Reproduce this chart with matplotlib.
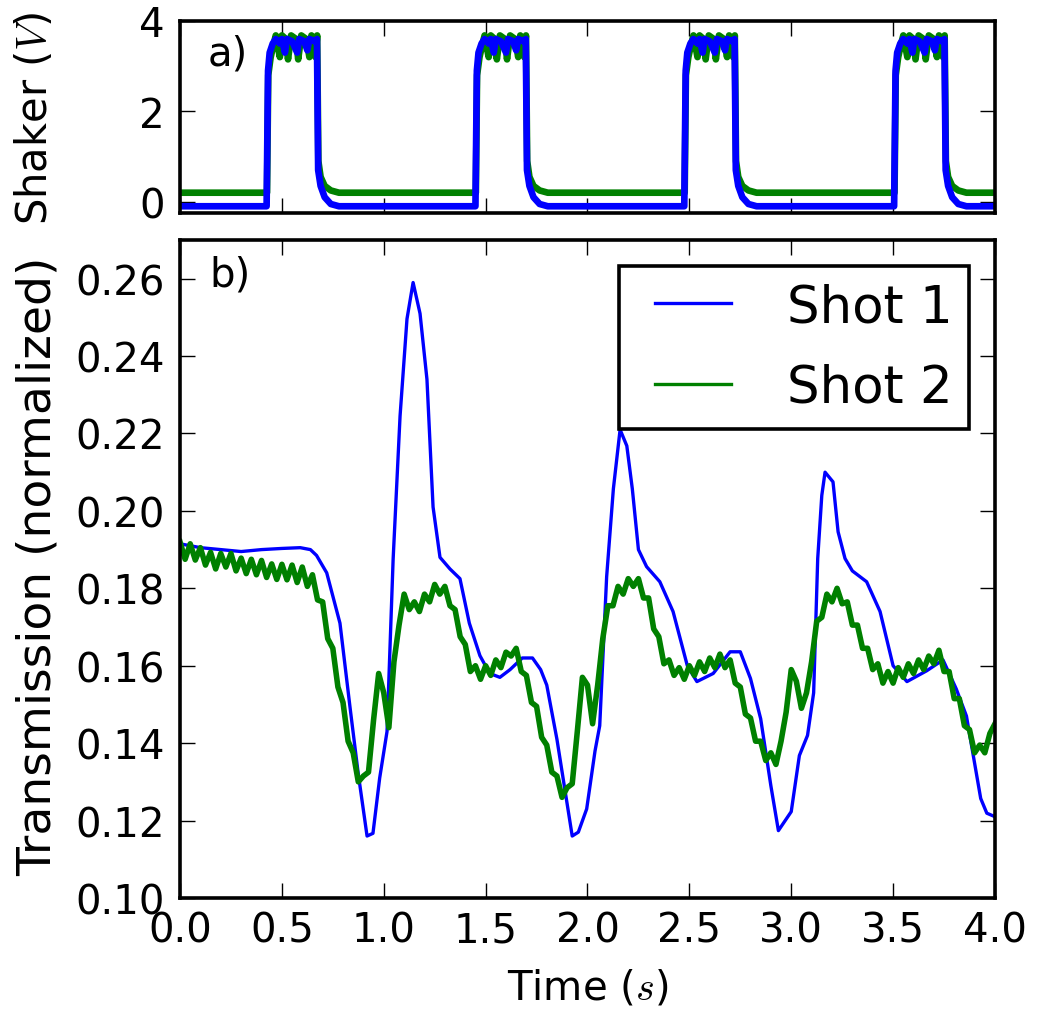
import numpy as np
import matplotlib
matplotlib.use("Agg")
import matplotlib.pyplot as plt

plt.rcParams['font.family'] = ['DejaVu Sans']
plt.rcParams['mathtext.fontset'] = 'cm'

# ---------------- data: shaker voltage (panel a) ----------------
shaker1_t = [0.0, 0.425, 0.432, 0.44, 0.455, 0.47, 0.49, 0.50, 0.515, 0.525, 0.55, 0.575, 0.585, 0.61, 0.625, 0.635, 0.66, 0.672, 0.678, 0.69, 0.71, 0.74, 0.78,
             1.450, 1.457, 1.465, 1.48, 1.495, 1.515, 1.525, 1.54, 1.55, 1.575, 1.60, 1.61, 1.635, 1.65, 1.66, 1.685, 1.697, 1.703, 1.715, 1.735, 1.765, 1.805,
             2.475, 2.482, 2.49, 2.505, 2.52, 2.54, 2.55, 2.565, 2.575, 2.60, 2.625, 2.635, 2.66, 2.675, 2.685, 2.71, 2.722, 2.728, 2.74, 2.76, 2.79, 2.83,
             3.505, 3.512, 3.52, 3.535, 3.55, 3.57, 3.58, 3.595, 3.605, 3.63, 3.655, 3.665, 3.69, 3.705, 3.715, 3.74, 3.752, 3.758, 3.77, 3.79, 3.82, 3.86, 4.0]
shaker1_v = [-0.1, -0.1, 2.9, 3.3, 3.5, 3.6, 3.5, 3.6, 3.3, 3.6, 3.55, 3.3, 3.6, 3.55, 3.35, 3.6, 3.55, 3.6, 0.7, 0.35, 0.1, -0.05, -0.1,
             -0.1, 2.9, 3.3, 3.5, 3.6, 3.5, 3.6, 3.3, 3.6, 3.55, 3.3, 3.6, 3.55, 3.35, 3.6, 3.55, 3.6, 0.7, 0.35, 0.1, -0.05, -0.1,
             -0.1, 2.9, 3.3, 3.5, 3.6, 3.5, 3.6, 3.3, 3.6, 3.55, 3.3, 3.6, 3.55, 3.35, 3.6, 3.55, 3.6, 0.7, 0.35, 0.1, -0.05, -0.1,
             -0.1, 2.9, 3.3, 3.5, 3.6, 3.5, 3.6, 3.3, 3.6, 3.55, 3.3, 3.6, 3.55, 3.35, 3.6, 3.55, 3.6, 0.7, 0.35, 0.1, -0.05, -0.1, -0.1]

shaker2_t = [0.0, 0.427, 0.433, 0.445, 0.46, 0.47, 0.49, 0.50, 0.52, 0.53, 0.545, 0.57, 0.58, 0.595, 0.62, 0.635, 0.645, 0.665, 0.673, 0.679, 0.69, 0.71, 0.74, 0.78,
             1.452, 1.458, 1.47, 1.485, 1.495, 1.515, 1.525, 1.545, 1.555, 1.57, 1.595, 1.605, 1.62, 1.645, 1.66, 1.67, 1.69, 1.698, 1.704, 1.715, 1.735, 1.765, 1.805,
             2.477, 2.483, 2.495, 2.51, 2.52, 2.54, 2.55, 2.57, 2.58, 2.595, 2.62, 2.63, 2.645, 2.67, 2.685, 2.695, 2.715, 2.723, 2.729, 2.74, 2.76, 2.79, 2.83,
             3.507, 3.513, 3.525, 3.54, 3.55, 3.57, 3.58, 3.60, 3.61, 3.625, 3.65, 3.66, 3.675, 3.70, 3.715, 3.725, 3.745, 3.753, 3.759, 3.77, 3.79, 3.82, 3.86, 4.0]
shaker2_v = [0.2, 0.2, 2.8, 3.2, 3.5, 3.68, 3.2, 3.68, 3.6, 3.15, 3.68, 3.6, 3.15, 3.68, 3.6, 3.2, 3.68, 3.2, 3.68, 0.9, 0.55, 0.35, 0.25, 0.2,
             0.2, 2.8, 3.2, 3.5, 3.68, 3.2, 3.68, 3.6, 3.15, 3.68, 3.6, 3.15, 3.68, 3.6, 3.2, 3.68, 3.2, 3.68, 0.9, 0.55, 0.35, 0.25, 0.2,
             0.2, 2.8, 3.2, 3.5, 3.68, 3.2, 3.68, 3.6, 3.15, 3.68, 3.6, 3.15, 3.68, 3.6, 3.2, 3.68, 3.2, 3.68, 0.9, 0.55, 0.35, 0.25, 0.2,
             0.2, 2.8, 3.2, 3.5, 3.68, 3.2, 3.68, 3.6, 3.15, 3.68, 3.6, 3.15, 3.68, 3.6, 3.2, 3.68, 3.2, 3.68, 0.9, 0.55, 0.35, 0.25, 0.2, 0.2]

# ---------------- data: transmission (panel b) ----------------
shot1_t = [0.0, 0.1, 0.2, 0.3, 0.4, 0.5, 0.59, 0.64, 0.67, 0.72, 0.785, 0.835, 0.875, 0.918, 0.947, 0.98, 1.016, 1.046,
           1.08, 1.114, 1.144, 1.178, 1.212, 1.242, 1.276, 1.325, 1.374, 1.42, 1.472, 1.52, 1.57, 1.62, 1.68, 1.73, 1.77,
           1.80, 1.85, 1.925, 1.955, 1.996, 2.037, 2.06, 2.094, 2.127, 2.16, 2.193, 2.22, 2.25, 2.29, 2.355, 2.42, 2.49,
           2.537, 2.617, 2.70, 2.75, 2.80, 2.85, 2.90, 2.937, 3.00, 3.04, 3.08, 3.11, 3.13, 3.15, 3.166, 3.205, 3.23,
           3.264, 3.30, 3.37, 3.436, 3.50, 3.568, 3.665, 3.745, 3.81, 3.86, 3.93, 3.96, 4.0]
shot1_v = [0.1915, 0.1905, 0.190, 0.1895, 0.190, 0.1903, 0.1905, 0.190, 0.1885, 0.184, 0.171, 0.149, 0.132, 0.116, 0.1167, 0.131, 0.143, 0.1875,
           0.2245, 0.2496, 0.259, 0.251, 0.234, 0.201, 0.188, 0.185, 0.1825, 0.171, 0.1626, 0.158, 0.157, 0.159, 0.162, 0.162, 0.159,
           0.155, 0.141, 0.116, 0.117, 0.123, 0.138, 0.1445, 0.183, 0.2057, 0.221, 0.2168, 0.2057, 0.190, 0.1856, 0.1817, 0.174, 0.160,
           0.1559, 0.158, 0.1636, 0.1636, 0.1567, 0.1463, 0.129, 0.1174, 0.1223, 0.1368, 0.142, 0.153, 0.1877, 0.204, 0.210, 0.2075, 0.1946,
           0.1877, 0.1845, 0.1817, 0.174, 0.160, 0.1559, 0.1587, 0.1615, 0.154, 0.147, 0.1257, 0.1219, 0.121]

shot2_t = np.arange(161) * 0.025
shot2_v = [0.192, 0.1875, 0.1915, 0.1873, 0.1905, 0.186, 0.1893, 0.185, 0.189, 0.1855,
           0.189, 0.1845, 0.1878, 0.1838, 0.1875, 0.1835, 0.1872, 0.1828, 0.1863, 0.1823,
           0.1862, 0.1822, 0.186, 0.1815, 0.1855, 0.1805, 0.1835, 0.177, 0.1765, 0.167,
           0.1645, 0.1545, 0.1505, 0.1405, 0.1375, 0.130, 0.1315, 0.1325, 0.146, 0.158,
           0.153, 0.144, 0.161, 0.1705, 0.1785, 0.1745, 0.1765, 0.174, 0.1785, 0.1765,
           0.181, 0.1785, 0.1805, 0.1755, 0.1745, 0.1675, 0.1655, 0.1585, 0.160, 0.1565,
           0.160, 0.1575, 0.1615, 0.1595, 0.1635, 0.1625, 0.1645, 0.1585, 0.1575, 0.1505,
           0.1495, 0.1415, 0.1395, 0.1325, 0.1315, 0.126, 0.1285, 0.1295, 0.143, 0.157,
           0.155, 0.145, 0.155, 0.167, 0.1755, 0.1755, 0.1805, 0.1785, 0.1825, 0.1805,
           0.1825, 0.1775, 0.1775, 0.1695, 0.1675, 0.1605, 0.1615, 0.1575, 0.1595, 0.1565,
           0.160, 0.1575, 0.161, 0.1585, 0.162, 0.1595, 0.163, 0.1595, 0.1615, 0.1555,
           0.1545, 0.1475, 0.1465, 0.1405, 0.1405, 0.1355, 0.1375, 0.1345, 0.1405, 0.148,
           0.159, 0.156, 0.149, 0.153, 0.161, 0.1715, 0.1725, 0.1785, 0.1765, 0.180,
           0.176, 0.1765, 0.1705, 0.1705, 0.1645, 0.1645, 0.159, 0.1605, 0.1555, 0.1585,
           0.1555, 0.1595, 0.157, 0.1605, 0.158, 0.1615, 0.159, 0.1625, 0.1605, 0.164,
           0.1585, 0.1585, 0.1515, 0.1515, 0.1445, 0.1435, 0.1375, 0.1395, 0.1375, 0.1425,
           0.145]

labels = ["Shot 1", "Shot 2"]
xticks = [0.0, 0.5, 1.0, 1.5, 2.0, 2.5, 3.0, 3.5, 4.0]
yticks_a = [0, 2, 4]
yticks_b = [0.10, 0.12, 0.14, 0.16, 0.18, 0.20, 0.22, 0.24, 0.26]

# ---------------- figure ----------------
fig = plt.figure(figsize=(10.4, 10.12), dpi=100)
axa = fig.add_axes([0.1731, 0.7885, 0.7836, 0.1898])
axb = fig.add_axes([0.1731, 0.1117, 0.7836, 0.6502])

FS = 29
for ax in (axa, axb):
    for sp in ax.spines.values():
        sp.set_linewidth(2.6)
    ax.tick_params(direction='in', length=11, width=1.0, top=True, right=True,
                   labelsize=FS, pad=9)
    ax.tick_params(axis='y', pad=11)

axa.plot(shaker2_t, shaker2_v, color='g', lw=4.8, solid_joinstyle='round')
axa.plot(shaker1_t, shaker1_v, color='b', lw=4.8, solid_joinstyle='round')
axa.set_xlim(0, 4)
axa.set_ylim(-0.25, 4.0)
axa.set_yticks(yticks_a)
axa.set_xticks(xticks)
axa.set_xticklabels([])
axa.set_ylabel(r'Shaker ($V$)', fontsize=30)
axa.yaxis.set_label_coords(-0.152, 0.5)
axa.text(0.034, 0.83, 'a)', transform=axa.transAxes, fontsize=FS, va='center', ha='left')

axb.plot(shot1_t, shot1_v, color='b', lw=2.4, label=labels[0])
axb.plot(shot2_t, shot2_v, color='g', lw=4.0, label=labels[1], solid_joinstyle='round')
axb.set_xlim(0, 4)
axb.set_ylim(0.10, 0.27)
axb.set_xticks(xticks)
axb.set_xticklabels([f"{v:.1f}" for v in xticks])
axb.set_yticks(yticks_b)
axb.set_yticklabels([f"{v:.2f}" for v in yticks_b])
axb.set_xlabel(r'Time ($s$)', fontsize=FS, labelpad=12)
axb.set_ylabel('Transmission (normalized)', fontsize=34)
axb.yaxis.set_label_coords(-0.146, 0.505)
axb.text(0.036, 0.948, 'b)', transform=axb.transAxes, fontsize=FS, va='center', ha='left')

leg = axb.legend(loc='upper right', fontsize=37, handlelength=1.85, handletextpad=1.1,
                 labelspacing=0.6, borderpad=0.32, borderaxespad=0.5, fancybox=False,
                 framealpha=1.0)
leg.get_frame().set_edgecolor('black')
leg.get_frame().set_linewidth(2.6)
for h in leg.get_lines():
    h.set_linewidth(2.4)
    xd = np.asarray(h.get_xdata(), dtype=float)
    h.set_xdata([xd[0] + 14.0, xd[-1]])
    h.set_ydata([h.get_ydata()[0], h.get_ydata()[-1]])

fig.savefig('out.png', dpi=100)
